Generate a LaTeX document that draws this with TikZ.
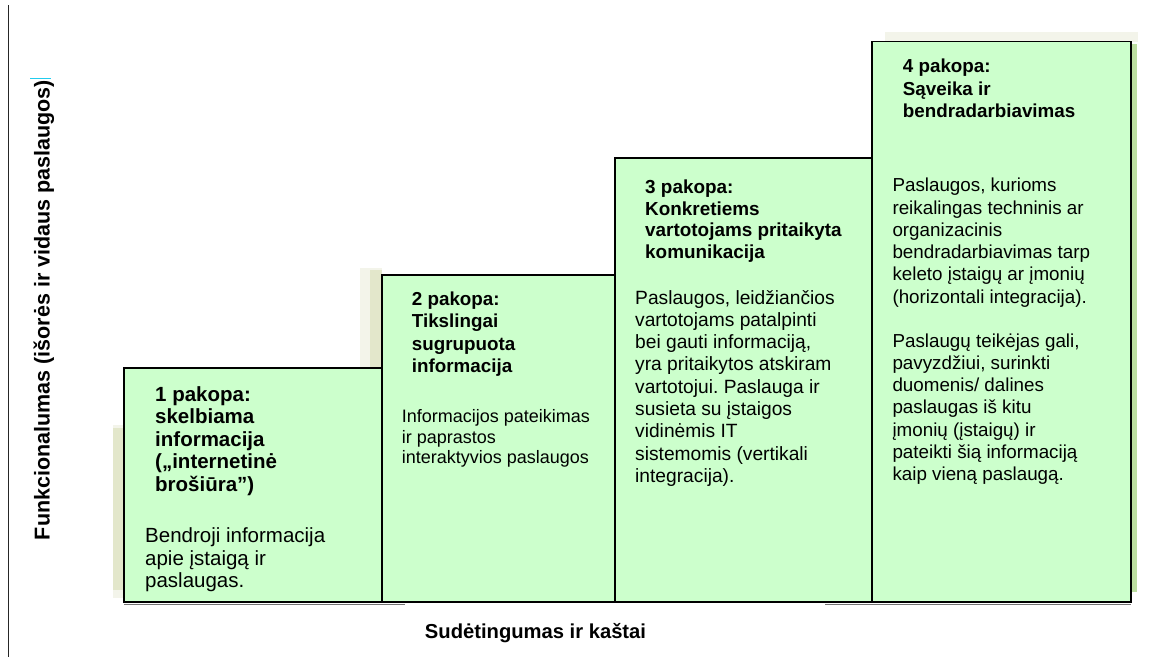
\documentclass[tikz,border=0pt]{standalone}
\usepackage{fontspec}
\setmainfont{Liberation Sans}
\frenchspacing
\definecolor{boxgreen}{HTML}{CCFFCC}
\definecolor{beige}{HTML}{E3E7CB}
\definecolor{lightbeige}{HTML}{F3F4EA}
\definecolor{shadowgreen}{HTML}{BCDDA0}
\definecolor{marker}{HTML}{22CCEE}
\newcommand{\lines}[2]{\parbox[t]{#1}{\raggedright #2}}
\begin{document}
\begin{tikzpicture}[x=1pt,y=-1pt,
  stepbox/.style={draw=black, line width=1.5pt, fill=boxgreen},
  ttl/.style={anchor=base west, inner sep=0pt, font=\bfseries\fontsize{#1}{22.6}\selectfont},
  ttl/.default=18.8,
  bdy/.style={anchor=base west, inner sep=0pt, font=\fontsize{#1}{22.3}\selectfont},
  bdy/.default=18.8,
  axislabel/.style={inner sep=0pt, font=\bfseries\fontsize{#1}{24}\selectfont},
  axislabel/.default=20.2]
\useasboundingbox (0,0) rectangle (1166,657);
% faint background remnants
\fill[lightbeige] (113,425) rectangle (124,598);
\fill[beige] (113,428) rectangle (124,590);
\fill[lightbeige] (360,268) rectangle (382,372);
\fill[beige] (370,270) rectangle (382,368);
\fill[lightbeige] (885,32) rectangle (1138,42);
\fill[shadowgreen] (1131,44) rectangle (1137,592);
% left axis
\draw[line width=1.3pt, black!85] (8.3,5) coordinate (axtop) -- (8.3,657) coordinate (axbot);
\node[axislabel=21.5, rotate=90, anchor=base] (ylab) at (49.5,310) {Funkcionalumas (išorės ir vidaus paslaugos)};
\draw[marker, line width=1pt] (30,78) coordinate (mk1) -- (51,78) coordinate (mk2);
% steps
\draw[stepbox] (124,368) rectangle (382,602);
\draw[stepbox] (382,275) rectangle (615,602);
\draw[stepbox] (615,158) rectangle (872,602);
\draw[stepbox] (872,41.7) rectangle (1131,602);
\draw[black!55, line width=1pt] (124,604) coordinate (s1) -- (405,604) coordinate (s2);
\draw[black!55, line width=1pt] (825,604) coordinate (s3) -- (1131,604) coordinate (s4);
% box 1
\node[ttl=20.5] (t1) at (155,401) {\lines{220pt}{1 pakopa:\\skelbiama\\informacija\\(„internetinė\\brošiūra”)}};
\node[bdy=20.5] (d1) at (145,542.7) {\lines{230pt}{Bendroji informacija\\apie įstaigą ir\\paslaugas.}};
% box 2
\node[ttl] (t2) at (411.7,305) {\lines{200pt}{2 pakopa:\\Tikslingai\\sugrupuota\\informacija}};
\node[anchor=base west, inner sep=0pt, font=\fontsize{18}{20.3}\selectfont] (d2) at (401.7,422.7) {\lines{210pt}{Informacijos pateikimas\\ir paprastos\\interaktyvios paslaugos}};
% box 3
\node[anchor=base west, inner sep=0pt, font=\bfseries\fontsize{18.9}{21.7}\selectfont] (t3) at (645,193.3) {\lines{220pt}{3 pakopa:\\Konkretiems\\vartotojams pritaikyta\\komunikacija}};
\node[bdy=19.2] (d3) at (635,304) {\lines{230pt}{Paslaugos, leidžiančios\\vartotojams patalpinti\\bei gauti informaciją,\\yra pritaikytos atskiram\\vartotojui. Paslauga ir\\susieta su įstaigos\\vidinėmis IT\\sistemomis (vertikali\\integracija).}};
% box 4
\node[ttl] (t4) at (902.7,72.5) {\lines{220pt}{4 pakopa:\\Sąveika ir\\bendradarbiavimas}};
\node[bdy] (d4) at (892.3,191.7) {\lines{235pt}{Paslaugos, kurioms\\reikalingas techninis ar\\organizacinis\\bendradarbiavimas tarp\\keleto įstaigų ar įmonių\\(horizontali integracija).\\[21.5pt]Paslaugų teikėjas gali,\\pavyzdžiui, surinkti\\duomenis/ dalines\\paslaugas iš kitu\\įmonių (įstaigų) ir\\pateikti šią informaciją\\kaip vieną paslaugą.}};
% bottom axis label
\node[axislabel, anchor=base] (xlab) at (535.5,638) {Sudėtingumas ir kaštai};
\end{tikzpicture}
\end{document}
